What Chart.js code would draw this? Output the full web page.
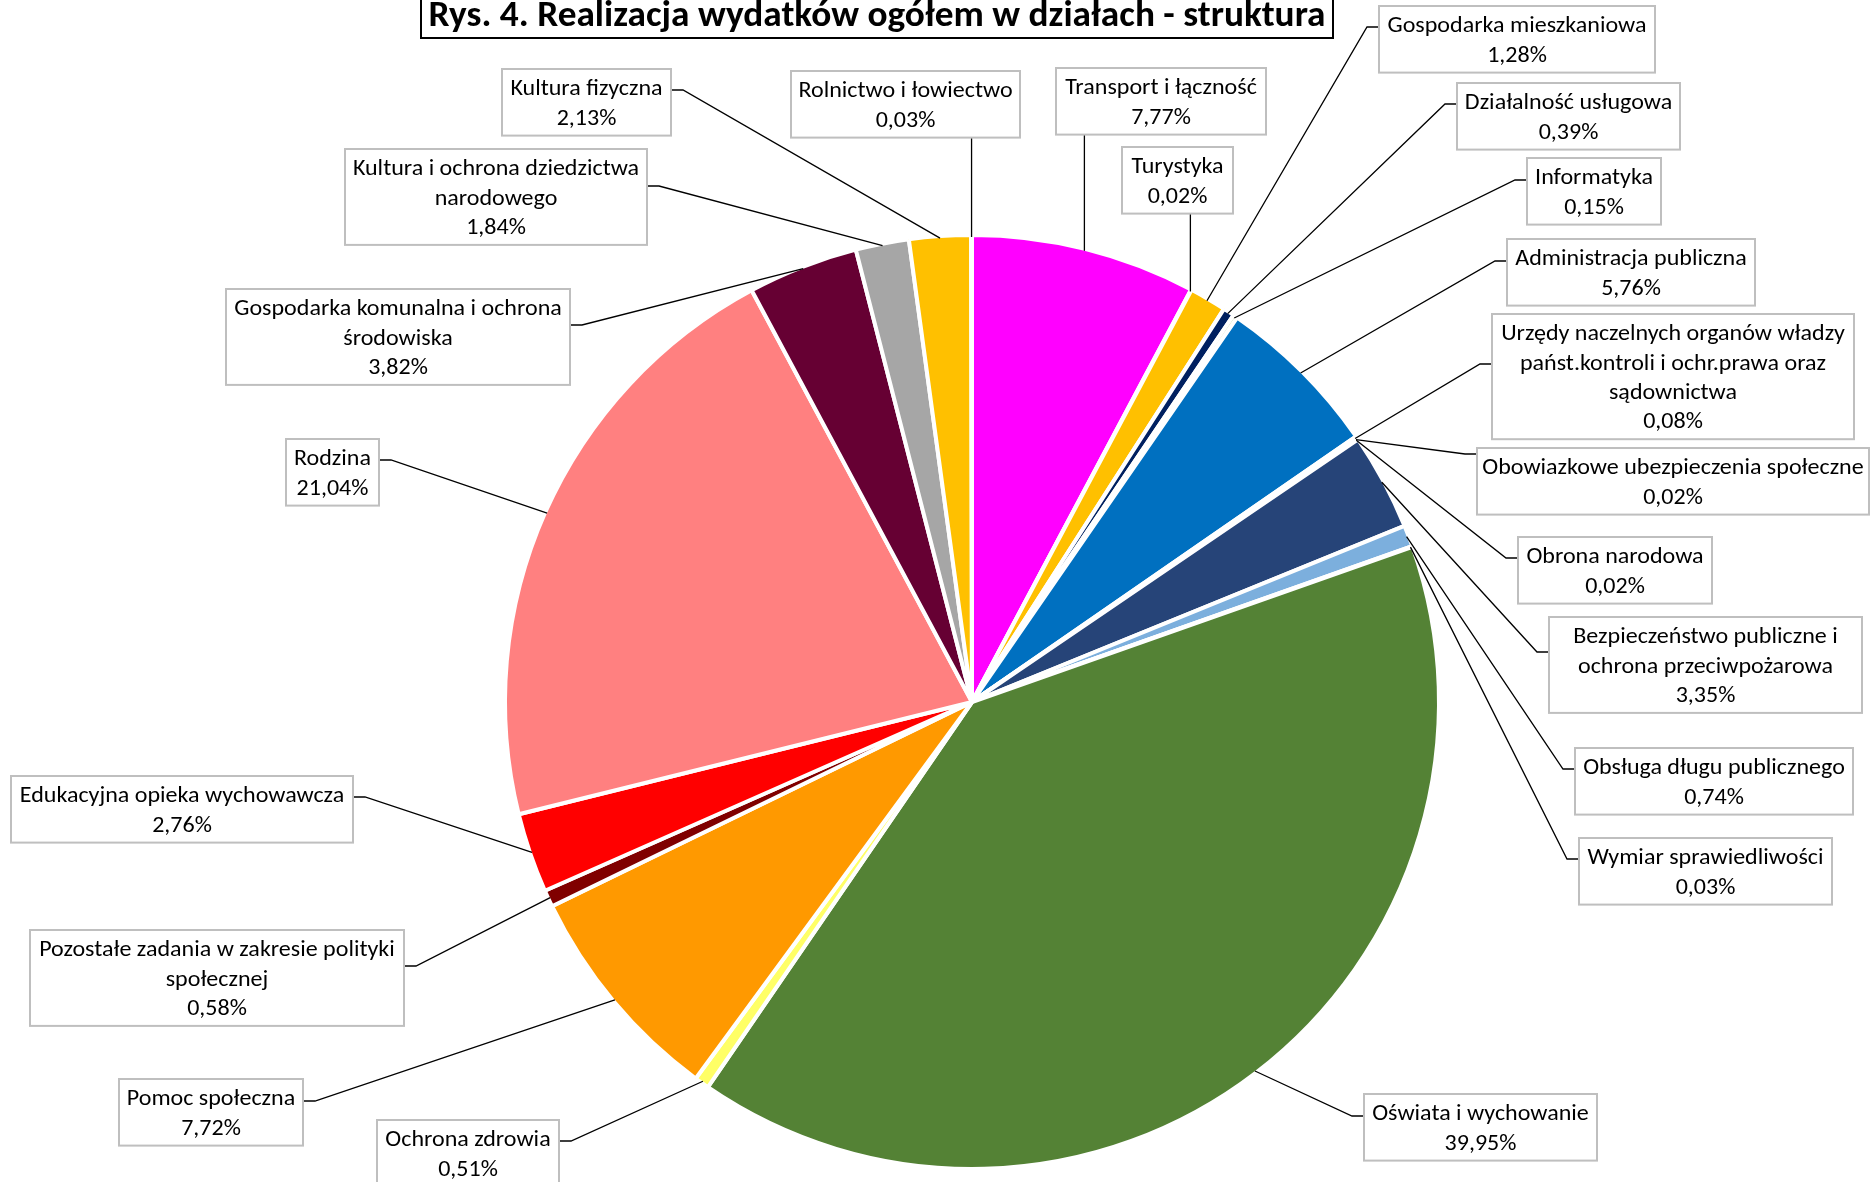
<!DOCTYPE html>
<html><head><meta charset="utf-8">
<script src="https://cdn.jsdelivr.net/npm/chart.js@4"></script>
<style>html,body{margin:0;padding:0;background:#fff;overflow:hidden}canvas{display:block}</style>
</head><body>
<canvas id="c" width="1871" height="1182"></canvas>
<script>
// ---------- DATA ----------
const TITLE = 'Rys. 4. Realizacja wydatków ogółem w działach - struktura';
const categories = [
  ['Transport i łączność'],
  ['Turystyka'],
  ['Gospodarka mieszkaniowa'],
  ['Działalność usługowa'],
  ['Informatyka'],
  ['Administracja publiczna'],
  ['Urzędy naczelnych organów władzy', 'państ.kontroli i ochr.prawa oraz', 'sądownictwa'],
  ['Obowiazkowe ubezpieczenia społeczne'],
  ['Obrona narodowa'],
  ['Bezpieczeństwo publiczne i', 'ochrona przeciwpożarowa'],
  ['Obsługa długu publicznego'],
  ['Wymiar sprawiedliwości'],
  ['Oświata i wychowanie'],
  ['Ochrona zdrowia'],
  ['Pomoc społeczna'],
  ['Pozostałe zadania w zakresie polityki', 'społecznej'],
  ['Edukacyjna opieka wychowawcza'],
  ['Rodzina'],
  ['Gospodarka komunalna i ochrona', 'środowiska'],
  ['Kultura i ochrona dziedzictwa', 'narodowego'],
  ['Kultura fizyczna'],
  ['Rolnictwo i łowiectwo']
];
const shares = [7.77, 0.02, 1.28, 0.39, 0.15, 5.76, 0.08, 0.02, 0.02, 3.35, 0.74, 0.03,
                39.95, 0.51, 7.72, 0.58, 2.76, 21.04, 3.82, 1.84, 2.13, 0.03];

// ---------- STYLE / LAYOUT ----------
const sliceColors = ['#FF00FF', '#92D050', '#FFC000', '#002060', '#C4D79B', '#0070C0', '#7030A0',
  '#00B0F0', '#00B050', '#264478', '#7CAFDD', '#9E480E', '#548235', '#FFFF66', '#FF9900',
  '#800000', '#FF0000', '#FF8080', '#660033', '#A6A6A6', '#FFC000', '#C55A11'];

// box position (top-left), width, side of box the leader line attaches to, elbow y
const boxLayout = [
  {x: 1056, y: 68,   w: 210, side: 'bottom'},
  {x: 1122, y: 147,  w: 111, side: 'bottom'},
  {x: 1379, y: 6,    w: 276, side: 'left',  ey: 27},
  {x: 1457, y: 83,   w: 223, side: 'left',  ey: 104},
  {x: 1527, y: 158,  w: 134, side: 'left',  ey: 180},
  {x: 1507, y: 239,  w: 248, side: 'left',  ey: 261},
  {x: 1492, y: 314,  w: 362, side: 'left',  ey: 364},
  {x: 1477, y: 448,  w: 392, side: 'left',  ey: 454},
  {x: 1518, y: 537,  w: 194, side: 'left',  ey: 558},
  {x: 1549, y: 617,  w: 313, side: 'left',  ey: 652},
  {x: 1575, y: 748,  w: 278, side: 'left',  ey: 769},
  {x: 1579, y: 838,  w: 253, side: 'left',  ey: 859},
  {x: 1364, y: 1094, w: 233, side: 'left',  ey: 1116},
  {x: 377,  y: 1120, w: 182, side: 'right', ey: 1141},
  {x: 119,  y: 1079, w: 184, side: 'right', ey: 1101},
  {x: 30,   y: 930,  w: 374, side: 'right', ey: 966},
  {x: 11,   y: 776,  w: 342, side: 'right', ey: 797},
  {x: 286,  y: 439,  w: 93,  side: 'right', ey: 460},
  {x: 226,  y: 289,  w: 344, side: 'right', ey: 325},
  {x: 345,  y: 149,  w: 302, side: 'right', ey: 186},
  {x: 502,  y: 69,   w: 169, side: 'right', ey: 90},
  {x: 791,  y: 71,   w: 229, side: 'bottom'}
];

const FONT = 'Carlito, Calibri, Lato, "Noto Sans", sans-serif';
const FS = 23;               // label font size
const LH = 29.3;             // line height
const REF_TEXT = 'Gospodarka mieszkaniowa', REF_W = 259;  // calibrate width to original
const TITLE_W = 897;

function fmtPct(v) { return v.toFixed(2).replace('.', ',') + '%'; }

const labelPlugin = {
  id: 'calloutLabels',
  afterDraw(chart) {
    const ctx = chart.ctx;
    const meta = chart.getDatasetMeta(0);
    ctx.save();
    ctx.font = FS + 'px ' + FONT;
    const sx = REF_W / ctx.measureText(REF_TEXT).width;

    // leader lines
    ctx.strokeStyle = '#000';
    ctx.lineWidth = 1.3;
    meta.data.forEach((arc, i) => {
      const L = boxLayout[i];
      const nLines = categories[i].length + 1;
      const h = nLines * LH + 8;
      const mid = (arc.startAngle + arc.endAngle) / 2;
      const r = arc.outerRadius - 2;
      const px = arc.x + r * Math.cos(mid), py = arc.y + r * Math.sin(mid);
      ctx.beginPath();
      ctx.moveTo(px, py);
      if (L.side === 'bottom') {
        ctx.lineTo(px, L.y + h);
      } else if (L.side === 'left') {
        ctx.lineTo(L.x - 12, L.ey);
        ctx.lineTo(L.x, L.ey);
      } else {
        ctx.lineTo(L.x + L.w + 12, L.ey);
        ctx.lineTo(L.x + L.w, L.ey);
      }
      ctx.stroke();
    });

    // boxes & text
    meta.data.forEach((arc, i) => {
      const L = boxLayout[i];
      const lines = categories[i].concat([fmtPct(shares[i])]);
      const h = lines.length * LH + 8;
      ctx.fillStyle = '#fff';
      ctx.fillRect(L.x, L.y, L.w, h);
      ctx.strokeStyle = '#BFBFBF';
      ctx.lineWidth = 2;
      ctx.strokeRect(L.x, L.y, L.w, h);
      ctx.fillStyle = '#000';
      ctx.textAlign = 'center';
      ctx.textBaseline = 'middle';
      lines.forEach((t, k) => {
        ctx.save();
        ctx.translate(L.x + L.w / 2, L.y + 20.5 + k * LH);
        ctx.scale(sx, 1);
        ctx.fillText(t, 0, 0);
        ctx.restore();
      });
    });

    // title
    ctx.fillStyle = '#fff';
    ctx.fillRect(421, -10, 912, 48);
    ctx.strokeStyle = '#000';
    ctx.lineWidth = 2;
    ctx.strokeRect(421, -10, 912, 48);
    ctx.font = 'bold 37px ' + FONT;
    const tsx = TITLE_W / ctx.measureText(TITLE).width;
    ctx.fillStyle = '#000';
    ctx.textAlign = 'center';
    ctx.textBaseline = 'alphabetic';
    ctx.save();
    ctx.translate(877, 26);
    ctx.scale(tsx, 1);
    ctx.fillText(TITLE, 0, 0);
    ctx.restore();
    ctx.restore();
  }
};

new Chart(document.getElementById('c'), {
  type: 'pie',
  data: {
    labels: categories,
    datasets: [{
      data: shares,
      backgroundColor: sliceColors,
      borderColor: '#FFFFFF',
      borderWidth: 4,
      radius: 467
    }]
  },
  options: {
    responsive: false,
    animation: false,
    events: [],
    layout: {padding: {left: 73, top: 222, right: 0, bottom: 0}},
    plugins: {legend: {display: false}, tooltip: {enabled: false}, title: {display: false}}
  },
  plugins: [labelPlugin]
});
</script>
</body></html>
